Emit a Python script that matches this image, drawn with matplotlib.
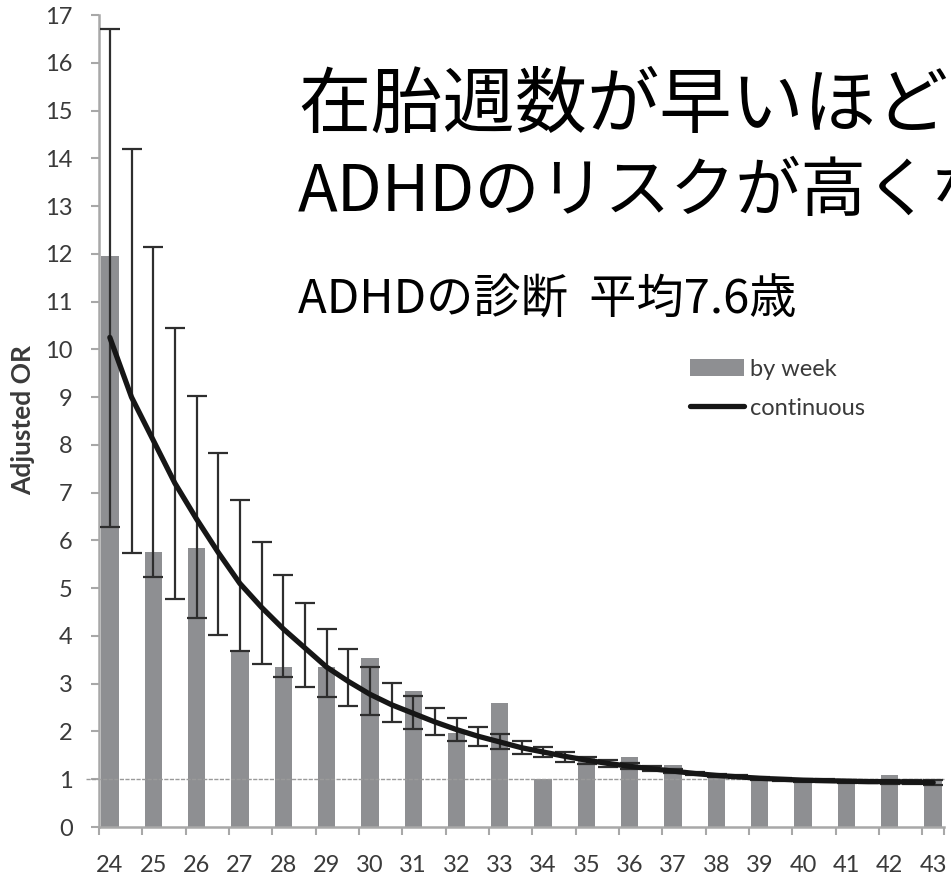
import matplotlib
matplotlib.use("Agg")
import matplotlib.pyplot as plt
from matplotlib.patches import Patch
from matplotlib.lines import Line2D

# Gestational week categories and adjusted odds ratios per week (bars)
weeks = [24, 25, 26, 27, 28, 29, 30, 31, 32, 33,
         34, 35, 36, 37, 38, 39, 40, 41, 42, 43]
or_by_week = [11.95, 5.75, 5.85, 3.70, 3.35, 3.34, 3.53, 2.85, 1.96, 2.60,
              1.00, 1.45, 1.47, 1.30, 1.10, 1.02, 0.97, 0.97, 1.08, 0.96]

# Continuous model evaluated every half week, with its confidence interval
half_weeks = [24.0, 24.5, 25.0, 25.5, 26.0, 26.5, 27.0, 27.5, 28.0, 28.5,
              29.0, 29.5, 30.0, 30.5, 31.0, 31.5, 32.0, 32.5, 33.0, 33.5,
              34.0, 34.5, 35.0, 35.5, 36.0, 36.5, 37.0, 37.5, 38.0, 38.5,
              39.0, 39.5, 40.0, 40.5, 41.0, 41.5, 42.0, 42.5, 43.0]
or_continuous = [10.25, 9.00, 8.10, 7.20, 6.45, 5.75, 5.10, 4.60, 4.15, 3.75,
                 3.35, 3.05, 2.78, 2.56, 2.38, 2.20, 2.04, 1.90, 1.78, 1.66,
                 1.57, 1.48, 1.40, 1.33, 1.27, 1.22, 1.17, 1.12, 1.08, 1.05,
                 1.02, 1.00, 0.98, 0.97, 0.96, 0.95, 0.95, 0.94, 0.93]
ci_lower = [6.29, 5.73, 5.24, 4.77, 4.37, 4.01, 3.69, 3.41, 3.15, 2.93,
            2.73, 2.53, 2.35, 2.19, 2.05, 1.93, 1.80, 1.70, 1.63, 1.52,
            1.46, 1.37, 1.32, 1.26, 1.21, 1.17, 1.13, 1.09, 1.05, 1.02,
            0.99, 0.97, 0.95, 0.94, 0.93, 0.92, 0.91, 0.90, 0.88]
ci_upper = [16.70, 14.20, 12.14, 10.44, 9.03, 7.82, 6.85, 5.97, 5.28, 4.68,
            4.15, 3.72, 3.34, 3.01, 2.74, 2.49, 2.29, 2.10, 1.94, 1.80,
            1.68, 1.58, 1.47, 1.40, 1.33, 1.27, 1.21, 1.16, 1.11, 1.08,
            1.05, 1.03, 1.01, 1.00, 0.99, 0.98, 0.99, 0.98, 0.99]

y_ticks = list(range(0, 18))

BAR_COLOR = "#8e8f92"
AXIS_COLOR = "#a8a8a8"
TEXT_COLOR = "#3a3a3a"
LATIN = ["Lato", "DejaVu Sans"]
CJK = ["Noto Sans CJK JP", "DejaVu Sans"]

W, H = 951, 874
fig = plt.figure(figsize=(W / 100, H / 100), dpi=100)
fig.patch.set_facecolor("white")

ax = fig.add_axes([99 / W, 1 - 827 / H, 845 / W, 812 / H])

# Bars: adjusted OR by week
ax.bar(weeks, or_by_week, width=0.40, color=BAR_COLOR, zorder=1)

# Reference line at OR = 1
ax.plot([23.45, 43.25], [1, 1], color="#9a9a9a", lw=1.0,
        dashes=(3, 1), clip_on=False, zorder=2)

# Confidence intervals of the continuous model
err_lo = [c - lo for c, lo in zip(or_continuous, ci_lower)]
err_hi = [hi - c for c, hi in zip(or_continuous, ci_upper)]
ax.errorbar(half_weeks, or_continuous, yerr=[err_lo, err_hi], fmt="none",
            ecolor="#2e2e2e", elinewidth=1.6, capsize=7, capthick=1.6,
            zorder=3)

# Continuous model curve
ax.plot(half_weeks, or_continuous, color="#161616", lw=3.8,
        solid_capstyle="round", solid_joinstyle="round", zorder=4)

ax.set_xlim(23.75, 43.25)
ax.set_ylim(0, 17)

for side in ("top", "right"):
    ax.spines[side].set_visible(False)
for side in ("left", "bottom"):
    ax.spines[side].set_color(AXIS_COLOR)
    ax.spines[side].set_linewidth(1.8)

ax.set_yticks(y_ticks)
ax.set_yticklabels([str(v) for v in y_ticks])
ax.tick_params(axis="y", direction="out", length=6, width=1.5,
               color=AXIS_COLOR, pad=13, labelsize=17, labelcolor=TEXT_COLOR)

ax.set_xticks(weeks)
ax.set_xticklabels([str(w) for w in weeks])
ax.set_xticks([w - 0.25 for w in weeks] + [43.25], minor=True)
ax.tick_params(axis="x", which="major", length=0, pad=20, labelsize=17,
               labelcolor=TEXT_COLOR)
ax.tick_params(axis="x", which="minor", direction="out", length=6,
               width=1.5, color=AXIS_COLOR)
for lab in ax.get_xticklabels() + ax.get_yticklabels():
    lab.set_family(LATIN)

fig.text(23 / W, 1 - 420 / H, "Adjusted OR", rotation=90, ha="center",
         va="center", fontsize=19, fontweight="bold", color=TEXT_COLOR,
         family=LATIN)

# Legend
handles = [Patch(facecolor=BAR_COLOR, edgecolor="none", label="by week"),
           Line2D([], [], color="#161616", lw=3.8, solid_capstyle="round",
                  label="continuous")]
fig.legend(handles=handles, loc="upper left",
           bbox_to_anchor=(690 / W, 1 - 359 / H), frameon=False,
           prop={"family": LATIN, "size": 17}, handlelength=2.3,
           handleheight=0.7, handletextpad=0.25, labelspacing=0.75,
           borderpad=0, borderaxespad=0, labelcolor=TEXT_COLOR)

# Headline text
fig.text(298 / W, 1 - 106 / H, "在胎週数が早いほど", ha="left", va="center",
         fontsize=52, color="black", family=CJK)
fig.text(298 / W, 1 - 193 / H, "ADHDのリスクが高くなる", ha="left",
         va="center", fontsize=47, color="black", family=CJK)
fig.text(298 / W, 1 - 300 / H, "ADHDの診断  平均7.6歳", ha="left",
         va="center", fontsize=34, color="black", family=CJK)

fig.savefig("out.png", dpi=100)
